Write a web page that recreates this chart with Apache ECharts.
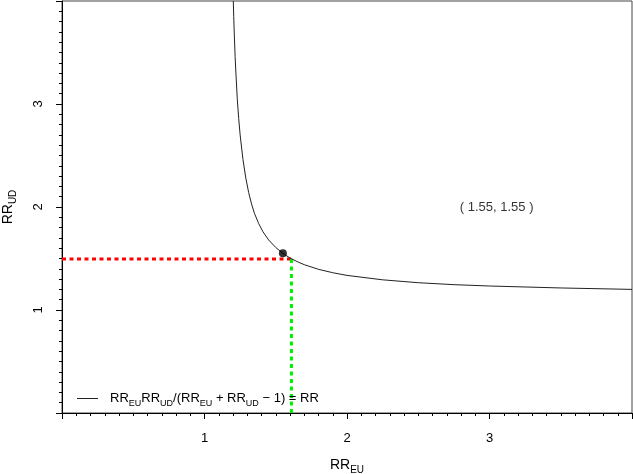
<!DOCTYPE html>
<html>
<head>
<meta charset="utf-8">
<script src="https://cdn.jsdelivr.net/npm/echarts@6/dist/echarts.min.js"></script>
<style>html,body{margin:0;padding:0;background:#fff}#c{width:633px;height:474px}</style>
</head>
<body>
<div id="c"></div>
<script>
// Curve: RR_EU (x) and RR_UD (y)
const curveX = [1.202, 1.205, 1.21, 1.215, 1.22, 1.23, 1.24, 1.25, 1.27, 1.29, 1.31, 1.33, 1.35, 1.38, 1.41, 1.45, 1.50, 1.55, 1.60, 1.65, 1.70, 1.80, 1.90, 2.00, 2.25, 2.50, 2.75, 3.00, 3.50, 4.00];
const curveY = [4.00, 3.85, 3.64, 3.46, 3.31, 3.05, 2.86, 2.70, 2.46, 2.28, 2.14, 2.03, 1.94, 1.84, 1.76, 1.68, 1.607, 1.55, 1.505, 1.47, 1.44, 1.395, 1.362, 1.336, 1.293, 1.265, 1.246, 1.233, 1.214, 1.20];
const pointXY = [1.55, 1.55];
const pointLabel = '( 1.55, 1.55 )';
const labelXY = [3.05, 2.0];
const redLineX = [0, 1.61];
const redLineY = [1.495, 1.495];
const greenLineX = [1.61, 1.61];
const greenLineY = [0, 1.495];
const xTickLabels = ['1', '2', '3'];
const yTickLabels = ['1', '2', '3'];
const legendText = '{m|RR}{s|EU}{m|RR}{s|UD}{m|/(RR}{s|EU}{m| + RR}{s|UD}{m| \u2212 1) = RR}';

const font = 'Liberation Sans, Arial, Helvetica, sans-serif';
const zip = (a, b) => a.map((v, i) => [v, b[i]]);

const chart = echarts.init(document.getElementById('c'));
const axisCommon = {
  type: 'value', min: 0, max: 4, interval: 1,
  axisLine: { show: true, lineStyle: { color: '#000', width: 1 } },
  axisTick: { show: true, inside: false, length: 6, lineStyle: { color: '#000' } },
  minorTick: { show: true, splitNumber: 10, length: 3, lineStyle: { color: '#000' } },
  splitLine: { show: false },
  minorSplitLine: { show: false }
};
const richName = { m: { fontSize: 14, lineHeight: 20, fontFamily: font, color: '#000' }, s: { fontSize: 10, lineHeight: 10, verticalAlign: 'bottom', fontFamily: font, color: '#000' } };
chart.setOption({
  animation: false,
  backgroundColor: '#fff',
  grid: { left: 62, right: 1, top: 1, bottom: 61, containLabel: false, outerBoundsMode: 'none',
    show: true, borderColor: '#444', borderWidth: 1, backgroundColor: 'transparent' },
  xAxis: Object.assign({}, axisCommon, {
    axisLabel: { margin: 19, fontSize: 13, color: '#000', fontFamily: font,
      formatter: v => xTickLabels.includes(String(v)) ? String(v) : '' },
    name: '{m|RR}{s|EU}', nameLocation: 'middle', nameGap: 42,
    nameTextStyle: { color: '#000', fontFamily: font, rich: richName }
  }),
  yAxis: Object.assign({}, axisCommon, {
    axisLabel: { margin: 17, fontSize: 13, color: '#000', fontFamily: font, rotate: 90,
      formatter: v => yTickLabels.includes(String(v)) ? String(v) : '' },
    name: '{m|RR}{s|UD}', nameLocation: 'middle', nameGap: 44, nameRotate: 90,
    nameTextStyle: { color: '#000', fontFamily: font, rich: richName }
  }),
  legend: {
    show: true, left: 72, top: 387, itemWidth: 21, itemHeight: 1, itemGap: 10,
    data: [{ name: 'curve', icon: 'rect', itemStyle: { color: '#222' } }],
    formatter: () => legendText,
    textStyle: { color: '#000', fontFamily: font, padding: [0, 0, 0, 7],
      rich: { m: { fontSize: 13, lineHeight: 20, fontFamily: font, color: '#000' }, s: { fontSize: 9, lineHeight: 9, verticalAlign: 'bottom', fontFamily: font, color: '#000' } } }
  },
  series: [
    { name: 'curve', type: 'line', data: zip(curveX, curveY), symbol: 'none', smooth: false,
      lineStyle: { color: '#222', width: 1 }, itemStyle: { color: '#222' }, clip: true, z: 3 },
    { name: 'red', type: 'line', data: zip(redLineX, redLineY), symbol: 'none',
      lineStyle: { color: '#ff0000', width: 3, type: [4, 3.5] }, z: 2 },
    { name: 'green', type: 'line', data: zip(greenLineX, greenLineY), symbol: 'none',
      lineStyle: { color: '#00ee00', width: 3, type: [4, 3.5] }, z: 2 },
    { name: 'pt', type: 'scatter', data: [pointXY], symbol: 'circle', symbolSize: 8,
      itemStyle: { color: '#000' }, z: 4 },
    { name: 'lbl', type: 'scatter', data: [labelXY], symbolSize: 0,
      label: { show: true, position: 'inside', formatter: pointLabel, fontSize: 13, color: '#000', fontFamily: font }, z: 4 }
  ]
});
</script>
</body>
</html>
